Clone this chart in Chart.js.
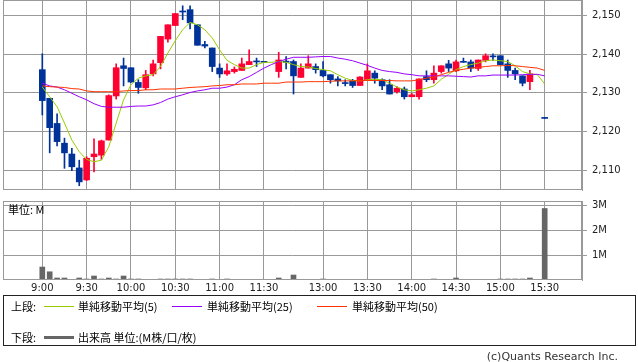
<!DOCTYPE html>
<html>
<head>
<meta charset="utf-8">
<script src="https://cdn.jsdelivr.net/npm/chart.js@4/dist/chart.umd.min.js"></script>
<style>
  body { margin: 0; background: #fff; width: 638px; height: 362px; position: relative; overflow: hidden;
         font-family: "Noto Sans CJK JP", "DejaVu Sans", sans-serif; color: #000; }
  #price { position: absolute; left: 0; top: 0; }
  #vol { position: absolute; left: 0; top: 195px; }
  .unit { position: absolute; left: 8px; top: 202px; font-size: 11px; line-height: 14px; }
  #legend { position: absolute; left: 3px; top: 295px; width: 631px; height: 49px; border: 1px solid #222; font-size: 11px; }
  #legend span { position: absolute; line-height: 14px; white-space: nowrap; }
  #legend i { position: absolute; height: 1px; width: 30px; }
  .copy { position: absolute; right: 20px; top: 350px; font-size: 11px; line-height: 14px; color: #333;
          font-family: "DejaVu Sans", sans-serif; }
</style>
</head>
<body>
<canvas id="price" width="638" height="192"></canvas>
<canvas id="vol" width="638" height="105"></canvas>
<div class="unit">単位: M</div>
<div id="legend">
  <span style="left:7px;top:3px">上段:</span>
  <i style="left:40px;top:10px;background:#99cc00"></i>
  <span style="left:74px;top:3px">単純移動平均(5)</span>
  <i style="left:168px;top:10px;background:#9900ff"></i>
  <span style="left:203px;top:3px">単純移動平均(25)</span>
  <i style="left:313px;top:10px;background:#ff3300"></i>
  <span style="left:348px;top:3px">単純移動平均(50)</span>
  <span style="left:7px;top:34px">下段:</span>
  <i style="left:40px;top:40px;height:3px;background:#666"></i>
  <span style="left:74px;top:34px">出来高 単位:(M株/口/枚)</span>
</div>
<div class="copy">(c)Quants Research Inc.</div>
<script>
// 5分足スロット (11:30 と 12:30 の間に空き1つ)
const times = [
  "9:00","9:05","9:10","9:15","9:20","9:25","9:30","9:35","9:40","9:45","9:50","9:55",
  "10:00","10:05","10:10","10:15","10:20","10:25","10:30","10:35","10:40","10:45","10:50","10:55",
  "11:00","11:05","11:10","11:15","11:20","11:25","11:30","",
  "12:30","12:35","12:40","12:45","12:50","12:55",
  "13:00","13:05","13:10","13:15","13:20","13:25","13:30","13:35","13:40","13:45","13:50","13:55",
  "14:00","14:05","14:10","14:15","14:20","14:25","14:30","14:35","14:40","14:45","14:50","14:55",
  "15:00","15:05","15:10","15:15","15:20","15:25","15:30"
];
const tickTimes = ["9:00","9:30","10:00","10:30","11:00","11:30","13:00","13:30","14:00","14:30","15:00","15:30"];
const priceTicks = [2110, 2120, 2130, 2140, 2150];
const volTicks = [1, 2, 3];

const open = [2136.0,2128.6,2122.1,2117.0,2114.2,2110.6,2107.5,2113.5,2113.9,2117.8,2129.2,2137.0,
  2136.5,2132.7,2131.3,2134.9,2137.8,2143.9,2147.4,2151.0,2151.5,2147.6,2142.5,2141.6,
  2136.4,2134.9,2135.5,2135.8,2137.3,2138.2,2137.9,null,
  2135.5,2138.2,2138.1,2134.0,2136.4,2136.8,
  2135.8,2134.7,2133.6,2132.6,2133.1,2131.9,2133.4,2135.1,2133.4,2132.1,2130.3,2131.0,
  2129.0,2129.0,2134.2,2133.4,2135.5,2137.5,2135.7,2138.0,2138.0,2136.3,2138.4,2139.4,
  2139.6,2137.5,2135.8,2134.4,2132.9,null,2123.4];
const high = [2140.1,2128.6,2124.6,2118.3,2115.7,2112.6,2113.5,2118.1,2117.8,2129.5,2137.5,2139.0,
  2136.5,2133.4,2135.8,2138.5,2144.6,2147.6,2150.5,2152.5,2152.5,2147.6,2143.3,2141.6,
  2137.5,2137.5,2136.7,2139.0,2141.1,2139.0,2137.9,null,
  2140.5,2139.4,2138.5,2137.5,2139.6,2137.5,
  2138.1,2134.7,2134.2,2133.4,2133.5,2134.2,2137.5,2135.7,2133.6,2133.4,2131.6,2131.5,
  2129.9,2133.6,2135.7,2137.0,2137.0,2138.4,2138.5,2139.0,2138.5,2138.5,2140.1,2140.1,
  2139.6,2138.5,2136.4,2134.4,2135.8,null,2123.4];
const low = [2124.3,2114.5,2116.3,2110.5,2109.9,2106.0,2107.3,2109.6,2112.8,2117.8,2128.4,2131.8,
  2132.7,2129.9,2130.8,2134.4,2136.2,2143.1,2147.4,2148.9,2146.5,2142.3,2141.6,2135.5,
  2134.0,2134.5,2135.1,2135.8,2137.3,2136.8,2137.9,null,
  2134.0,2136.2,2129.7,2134.0,2136.4,2135.1,
  2134.1,2132.5,2131.8,2131.8,2131.4,2131.9,2133.4,2132.5,2130.8,2129.7,2129.9,2128.4,
  2129.0,2128.4,2132.9,2132.5,2135.1,2135.5,2135.5,2137.9,2135.5,2135.8,2138.0,2138.4,
  2137.3,2134.0,2133.4,2131.8,2130.8,null,2123.4];
const close = [2128.0,2121.0,2117.4,2114.5,2110.9,2107.0,2113.1,2114.2,2117.6,2129.3,2136.5,2136.3,
  2132.8,2131.4,2134.7,2137.5,2144.6,2147.6,2150.5,2150.9,2148.1,2142.3,2142.1,2136.8,
  2134.9,2135.7,2136.1,2137.5,2138.1,2138.0,2137.9,null,
  2138.5,2137.9,2134.4,2136.4,2137.5,2136.0,
  2134.4,2133.4,2133.1,2132.4,2131.9,2134.1,2135.7,2133.8,2131.8,2129.7,2131.2,2129.0,
  2129.5,2133.6,2133.4,2135.1,2137.0,2136.4,2138.0,2137.9,2136.4,2138.5,2139.6,2139.3,
  2137.3,2135.8,2134.9,2132.5,2134.9,null,2123.4];

const sma5 = [2131.5,2129.0,2126.4,2122.2,2117.8,2114.8,2112.8,2112.2,2112.6,2116.1,2122.2,2128.2,
  2132.1,2133.8,2134.4,2134.7,2136.8,2140.3,2143.5,2146.3,2148.2,2147.6,2146.3,2144.2,
  2141.1,2138.4,2137.3,2136.4,2136.4,2137.3,2137.9,2137.9,
  2138.1,2137.9,2137.3,2136.8,2136.7,2136.3,
  2136.0,2135.7,2134.7,2133.8,2133.2,2133.1,2133.4,2133.5,2133.4,2132.5,2131.5,2130.8,
  2130.5,2130.8,2131.2,2131.8,2133.5,2134.8,2136.0,2136.8,2137.3,2137.7,2138.3,2138.5,
  2138.3,2138.1,2137.0,2135.5,2134.9,2134.7,2132.3];
const sma25 = [2132.5,2131.8,2131.5,2130.8,2129.9,2129.0,2128.2,2127.2,2126.5,2126.3,2126.3,2126.3,
  2126.5,2126.6,2126.6,2126.9,2127.5,2128.4,2129.0,2129.5,2130.1,2130.5,2130.8,2131.2,
  2131.2,2131.5,2132.1,2133.4,2134.2,2135.3,2136.4,2137.3,
  2138.1,2138.7,2139.2,2139.2,2139.2,2139.3,
  2139.4,2139.4,2139.0,2138.7,2138.3,2137.7,2137.1,2136.4,2135.8,2135.5,2135.3,2134.9,
  2134.7,2134.4,2134.4,2134.4,2134.4,2134.4,2134.3,2134.2,2134.1,2134.4,2134.4,2134.6,
  2134.6,2134.6,2134.6,2134.7,2134.8,2134.8,2134.4];
const sma50 = [2131.8,2131.6,2131.5,2131.4,2131.1,2131.0,2130.5,2130.3,2130.3,2130.3,2130.3,2130.5,
  2130.6,2130.6,2130.8,2130.8,2131.0,2131.0,2131.0,2131.2,2131.4,2131.5,2131.6,2131.8,
  2131.9,2132.1,2132.1,2132.3,2132.3,2132.3,2132.5,2132.5,
  2132.5,2132.8,2132.8,2132.8,2132.9,2132.9,
  2132.9,2133.0,2133.1,2133.1,2133.1,2133.2,2133.2,2133.2,2133.2,2133.2,2133.1,2133.1,
  2133.1,2133.4,2133.8,2134.1,2134.7,2135.3,2135.8,2136.1,2136.4,2136.6,2136.8,2137.0,
  2137.0,2137.1,2137.0,2136.8,2136.6,2136.4,2135.8];

// 出来高 (M)
const volume = [0.52,0.33,0.08,0.08,0.01,0.08,0.04,0.16,0.04,0.08,0.04,0.16,
  0.04,0.04,0.01,0.01,0.04,0.04,0.04,0.04,0.04,0.01,0.01,0.04,
  0.01,0.04,0.01,0.01,0.01,0.01,0.01,null,
  0.08,0.01,0.20,0.01,0.01,0.01,
  0.04,0.01,0.01,0.01,0.01,0.01,0.01,0.01,0.01,0.01,0.01,0.01,
  0.01,0.01,0.01,0.04,0.01,0.01,0.08,0.01,0.01,0.01,0.01,0.01,
  0.04,0.04,0.04,0.04,0.08,null,2.87];

const UP = "#ff0033", DOWN = "#003399", GRID = "#999";
const tickIdx = tickTimes.map(t => times.indexOf(t));
const idx = times.map((t, i) => i).filter(i => open[i] != null);
const colorOf = i => close[i] > open[i] ? UP : DOWN;

const frame = {
  id: "frame",
  afterDraw(chart) {
    const a = chart.chartArea, ctx = chart.ctx;
    ctx.save();
    ctx.strokeStyle = GRID;
    ctx.lineWidth = 1;
    ctx.strokeRect(a.left + 0.5, a.top + 0.5, a.right - a.left - 1, a.bottom - a.top - 1);
    ctx.restore();
  }
};

const xScale = (showLabels) => ({
  type: "linear",
  offset: false,
  min: -5.32,
  max: 73.05,
  afterBuildTicks: s => { s.ticks = tickIdx.map(v => ({ value: v })); },
  afterFit: s => { s.paddingLeft = 0; s.paddingRight = 0; s.height = showLabels ? 20 : 0; },
  grid: { color: GRID, drawTicks: false, offset: false },
  border: { display: false },
  ticks: {
    display: showLabels, padding: 2, maxRotation: 0, autoSkip: false,
    color: "#222", font: { family: "DejaVu Sans", size: 10 },
    callback: v => times[v]
  }
});

const lineDs = (data, color) => ({
  type: "line",
  data: data.map((v, i) => ({ x: i, y: v })),
  borderColor: color,
  borderWidth: 1,
  pointRadius: 0,
  tension: 0,
  order: 0
});

new Chart(document.getElementById("price"), {
  type: "bar",
  data: {
    datasets: [
      lineDs(sma50, "#ff3300"),
      lineDs(sma25, "#9900ff"),
      lineDs(sma5, "#99cc00"),
      {
        data: idx.map(i => ({ x: i, y: [low[i], high[i]] })),
        backgroundColor: idx.map(colorOf),
        barThickness: 1,
        minBarLength: 1,
        grouped: false,
        order: 2
      },
      {
        data: idx.map(i => ({ x: i, y: [Math.min(open[i], close[i]), Math.max(open[i], close[i])] })),
        backgroundColor: idx.map(colorOf),
        barThickness: 6,
        minBarLength: 1,
        grouped: false,
        order: 1
      }
    ]
  },
  options: {
    responsive: false,
    animation: false,
    devicePixelRatio: 1,
    layout: { padding: { left: 3, top: 0, right: 0, bottom: 2 } },
    plugins: { legend: { display: false }, tooltip: { enabled: false } },
    scales: {
      x: xScale(false),
      y: {
        position: "right",
        min: 2104.9,
        max: 2154.0,
        afterBuildTicks: s => { s.ticks = priceTicks.map(v => ({ value: v })); },
        afterFit: s => { s.width = 56; s.paddingTop = 0; s.paddingBottom = 0; },
        grid: { color: GRID, tickLength: 5 },
        border: { color: GRID },
        ticks: {
          padding: 5, color: "#222", font: { family: "DejaVu Sans", size: 10 },
          callback: v => v.toLocaleString("en-US")
        }
      }
    }
  },
  plugins: [frame]
});

new Chart(document.getElementById("vol"), {
  type: "bar",
  data: {
    datasets: [{
      data: idx.map(i => ({ x: i, y: volume[i] })),
      backgroundColor: "#666",
      barThickness: 5,
      grouped: false
    }]
  },
  options: {
    responsive: false,
    animation: false,
    devicePixelRatio: 1,
    layout: { padding: { left: 3, top: 6, right: 0, bottom: 0 } },
    plugins: { legend: { display: false }, tooltip: { enabled: false } },
    scales: {
      x: xScale(true),
      y: {
        position: "right",
        min: 0,
        max: 3.17,
        afterBuildTicks: s => { s.ticks = volTicks.map(v => ({ value: v })); },
        afterFit: s => { s.width = 56; s.paddingTop = 0; s.paddingBottom = 0; },
        grid: { color: GRID, tickLength: 5 },
        border: { color: GRID },
        ticks: {
          padding: 5, color: "#222", font: { family: "DejaVu Sans", size: 10 },
          callback: v => v + "M"
        }
      }
    }
  },
  plugins: [frame]
});
</script>
</body>
</html>
